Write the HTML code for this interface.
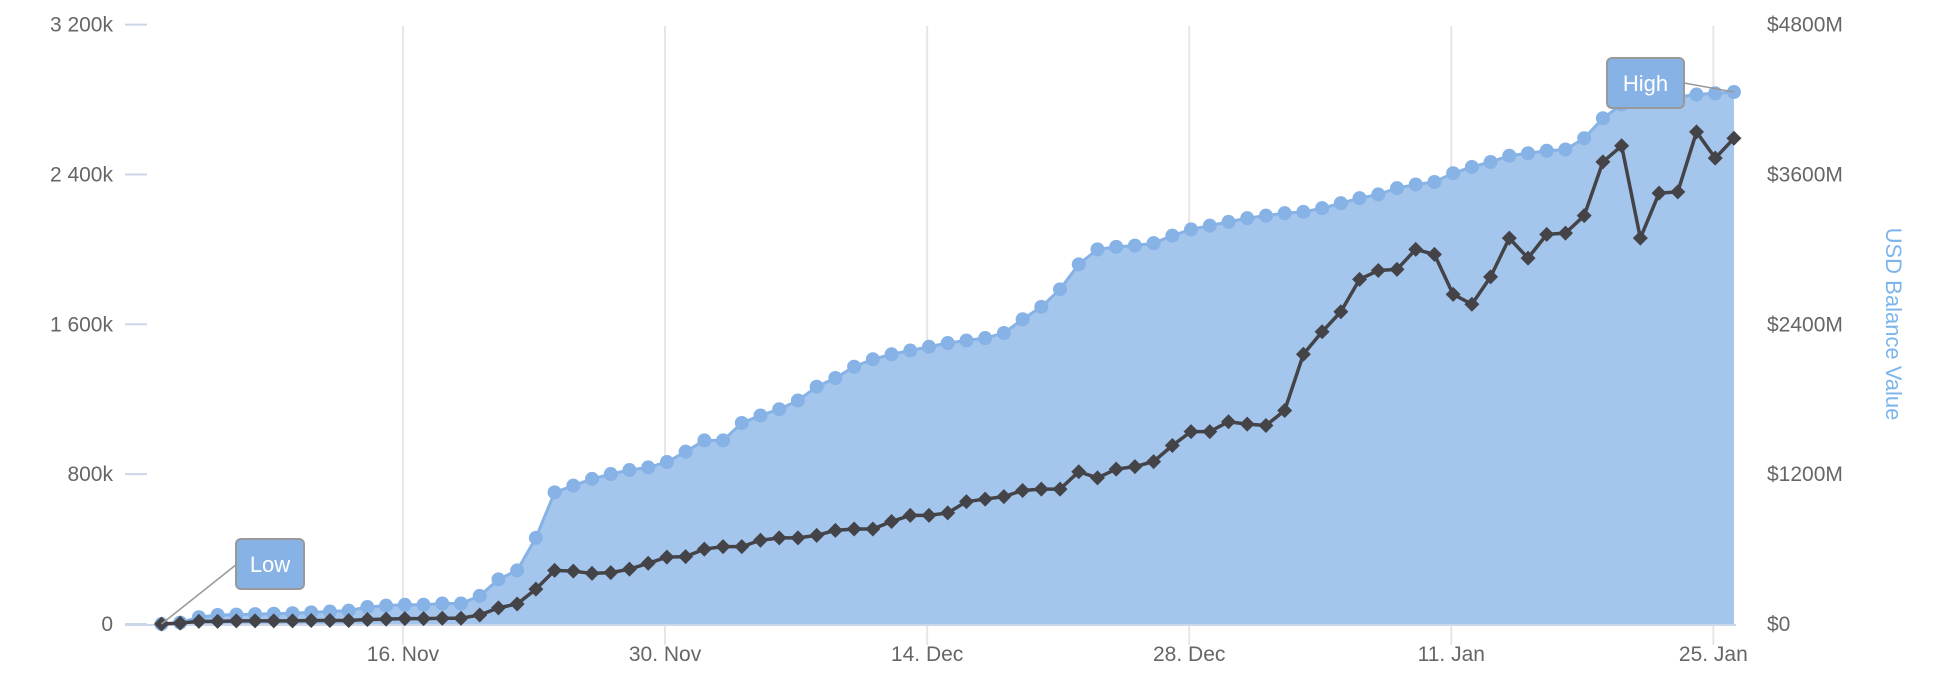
<!DOCTYPE html>
<html><head><meta charset="utf-8"><style>
html,body{margin:0;padding:0;background:#fff;}
svg{display:block;font-family:"Liberation Sans","DejaVu Sans",sans-serif;}
</style></head><body>
<svg id="chart" width="1950" height="698" viewBox="0 0 1950 698" xmlns="http://www.w3.org/2000/svg"></svg>
<script>
const leftTicks = [0, 800, 1600, 2400, 3200];
const leftTickLabels = ["0", "800k", "1 600k", "2 400k", "3 200k"];
const rightTicks = [0, 1200, 2400, 3600, 4800];
const rightTickLabels = ["$0", "$1200M", "$2400M", "$3600M", "$4800M"];
const xTickDays = [13, 27, 41, 55, 69, 83];
const xTickLabels = ["16. Nov", "30. Nov", "14. Dec", "28. Dec", "11. Jan", "25. Jan"];
const usdBalance = [0,11,54,72,75,79,82,86,93,100,107,136,147,154,154,164,164,225,357,429,690,1054,1108,1162,1201,1233,1254,1297,
1380,1470,1470,1610,1670,1720,1790,1900,1970,2060,2120,2160,2190,2220,2250,2270,2290,2330,2440,2540,2680,2880,3000,3020,3030,3050,3110,3160,3190,3220,3250,3270,3290,3300,3330,3370,3410,3440,3490,3520,3540,3610,3660,3700,3750,3770,3790,3800,3890,4050,4160,4180,4190,4220,4240,4250,4260];
const tokenBalance = [0,5,14,14,17,17,17,17,19,19,19,24,26,29,29,31,31,48,86,107,186,286,282,270,274,293,324,357,
360,400,413,413,447,460,460,473,500,507,507,547,580,580,593,653,667,680,713,720,720,813,780,827,840,867,953,1027,1027,1080,1067,1060,1140,1440,1560,1667,1840,1887,1893,2000,1973,1760,1707,1853,2060,1953,2080,2087,2180,2467,2553,2060,2300,2307,2627,2487,2593];

const svg = document.getElementById('chart');
const NS = 'http://www.w3.org/2000/svg';
const Y0 = 624, YT = 24.6, X0 = 159.6, DX = 18.72;
function xDay(t){ return X0 + t*DX; }
function xPt(i){ return xDay(i + 0.1); }
function yLeft(v){ return Y0 - (v/3200)*(Y0-YT); }
function yRight(v){ return Y0 - (v/4800)*(Y0-YT); }
function mk(tag, attrs, parent){
  const e = document.createElementNS(NS, tag);
  for (const k in attrs) e.setAttribute(k, attrs[k]);
  (parent||svg).appendChild(e);
  return e;
}

xTickDays.forEach((d, i) => {
  const g = mk('line', {x1:xDay(d), x2:xDay(d), y1:26, y2:645, stroke:'#e6e6e6', 'stroke-width':2});
  
  
  const t = mk('text', {x:xDay(d), y:661, 'text-anchor':'middle', 'font-size':21, fill:'#666'});
  t.textContent = xTickLabels[i];
  
  
});

leftTicks.forEach((v, i) => {
  const l = mk('line', {x1:125, x2:147, y1:yLeft(v), y2:yLeft(v), stroke:'#ccd6eb', 'stroke-width':2});
  
  
  const t = mk('text', {x:113, y:yLeft(v)+7, 'text-anchor':'end', 'font-size':21, fill:'#666'});
  t.textContent = leftTickLabels[i];
  
  
});
rightTicks.forEach((v, i) => {
  const t = mk('text', {x:1767, y:yRight(v)+7, 'text-anchor':'start', 'font-size':21, fill:'#666'});
  t.textContent = rightTickLabels[i];
  
  
});
const at = mk('text', {x:1893, y:324, 'text-anchor':'middle', 'font-size':22, fill:'#7cb5ec', transform:'rotate(90 1893 324)', dy:7});
at.textContent = 'USD Balance Value';



let d = 'M' + xPt(0) + ',' + Y0;
usdBalance.forEach((v, i) => { d += ' L' + xPt(i) + ',' + yRight(v); });
d += ' L' + xPt(usdBalance.length-1) + ',' + Y0 + ' Z';
const area = mk('path', {d:d, fill:'#a4c5ec'});



const ax = mk('line', {x1:125, x2:1736, y1:Y0+1, y2:Y0+1, stroke:'#ccd6eb', 'stroke-width':2});



const bl = mk('polyline', {points: usdBalance.map((v,i)=>xPt(i)+','+yRight(v)).join(' '), fill:'none', stroke:'#86b2e6', 'stroke-width':3});


usdBalance.forEach((v, i) => {
  const c = mk('circle', {cx:xPt(i), cy:yRight(v), r:7, fill:'#86b2e6'});
  
  
});

const kl = mk('polyline', {points: tokenBalance.map((v,i)=>xPt(i)+','+yLeft(v)).join(' '), fill:'none', stroke:'#434348', 'stroke-width':3.5, 'stroke-linejoin':'round'});


tokenBalance.forEach((v, i) => {
  const x = xPt(i), y = yLeft(v), s = 7.5;
  const p = mk('path', {d:`M${x},${y-s} L${x+s},${y} L${x},${y+s} L${x-s},${y} Z`, fill:'#434348'});
  
  
});

function flag(name, x, y, w, h, text, lx1, ly1, lx2, ly2){
  const ln = mk('line', {x1:lx1, y1:ly1, x2:lx2, y2:ly2, stroke:'#999', 'stroke-width':1.5});
  
  
  const r = mk('rect', {x:x, y:y, width:w, height:h, rx:5, fill:'#86b2e6', stroke:'#999', 'stroke-width':2});
  
  
  const t = mk('text', {x:x+w/2, y:y+h/2+8, 'text-anchor':'middle', 'font-size':22, fill:'#fff'});
  t.textContent = text;
  
  
}
const lastI = usdBalance.length-1;
flag('low-label', 236, 539, 68, 50, 'Low', xPt(0), yLeft(tokenBalance[0]), 237, 564);
flag('high-label', 1607, 58, 77, 50, 'High', 1684, 83, xPt(lastI), yRight(usdBalance[lastI]));
</script>
</body></html>
